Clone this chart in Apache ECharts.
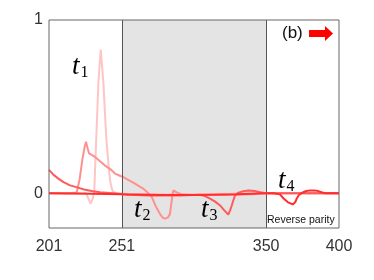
<!DOCTYPE html>
<html><head><meta charset="utf-8">
<script src="https://cdn.jsdelivr.net/npm/echarts@6/dist/echarts.min.js"></script>
<style>html,body{margin:0;padding:0;background:#fff}#c{width:374px;height:280px}</style>
</head><body><div id="c"></div>
<script>
// ---- data ----
const xTickLabels = [201, 251, 350, 400];
const yTickLabels = [0, 1];
const regionStart = 251, regionEnd = 350;

const t1X = [201,215,224,226.4,228,229.6,231,232.1,233.3,234.9,236.5,238.3,240.1,240.6,242,242.9,244,245,248,260,300,340,400];
const t1Y = [0,0,0,0,-0.03,-0.06,-0.03,0.02,0.29,0.64,0.83,0.64,0.35,0.29,0.15,0.075,0.03,0.008,0,-0.005,-0.005,0,0];

const t2X = [201,215,220,222,224,225.5,226.4,227.5,228.5,232.6,236,239.4,243,246.3,250,252,256,260,263,265.7,268,271.5,274,277.2,279,280.6,282.5,284,285.2,286.3,288.6,292,300,320,340,350,370,400];
const t2Y = [0,0,0.005,0.08,0.2,0.27,0.297,0.26,0.23,0.21,0.185,0.16,0.14,0.114,0.1,0.094,0.075,0.056,0.04,0.027,0.01,-0.02,-0.07,-0.12,-0.14,-0.146,-0.14,-0.12,-0.04,0.017,0.005,-0.005,-0.01,-0.01,-0.005,0,0,0];

const t3X = [201,204,207.4,211,215.4,221,225,230.3,236,245,255,270,290,300,304.6,308,311.5,315,318.4,321,324,325.2,326.4,327.5,328.7,331,334.4,338,342,346,350,360,380,400];
const t3Y = [0.135,0.108,0.085,0.065,0.046,0.033,0.022,0.013,0.006,0,-0.008,-0.012,-0.012,-0.01,-0.008,-0.016,-0.03,-0.048,-0.07,-0.095,-0.123,-0.1,-0.07,-0.04,-0.012,0.004,0.012,0.016,0.014,0.006,0,0,0,0];

const t4X = [201,230,251,280,300,330,350,355,359.5,362,365,368.3,370,371,372.5,374.4,377,380,383,385.8,388,390.4,395,400];
const t4Y = [0,-0.002,-0.006,-0.01,-0.01,-0.006,0,0,-0.006,-0.03,-0.052,-0.064,-0.05,-0.03,-0.01,0.002,0.012,0.017,0.017,0.013,0.006,0,0,0];

const seriesColors = ['#ffc4c4', '#ff9090', '#ff5a5a', '#ff2d2d'];

const zip = (xs, ys) => xs.map((x, i) => [x, ys[i]]);

const chart = echarts.init(document.getElementById('c'), null, {renderer: 'canvas'});
const lineSeries = [[t1X,t1Y],[t2X,t2Y],[t3X,t3Y],[t4X,t4Y]].map((d, i) => ({
  type: 'line', data: zip(d[0], d[1]), showSymbol: false, symbol: 'none',
  lineStyle: {color: seriesColors[i], width: 2}, z: 3 + i, animation: false
}));

const font = '"Liberation Sans", Arial, sans-serif';
const tRich = {
  t: {fontFamily: '"Liberation Serif", "DejaVu Serif", serif', fontStyle: 'italic', fontSize: 27, color: '#111'},
  s: {fontFamily: '"Liberation Serif", "DejaVu Serif", serif', fontSize: 16, color: '#111', padding: [12, 0, 0, 1]}
};
function tLabel(n, left, top) {
  return {type: 'text', left: left, top: top, z: 20,
    style: {text: '{t|t}{s|' + n + '}', rich: tRich}};
}

chart.setOption({
  animation: false,
  grid: {left: 49, right: 35, top: 20, bottom: 52, show: true, borderColor: '#666', borderWidth: 1, z: 10, backgroundColor: 'transparent'},
  xAxis: {
    type: 'value', min: 201, max: 400,
    axisLine: {show: false}, axisTick: {show: false}, splitLine: {show: false},
    axisLabel: {customValues: xTickLabels, fontSize: 16, color: '#333', fontFamily: font, margin: 11}
  },
  yAxis: {
    type: 'value', min: -0.2, max: 1, interval: 0.2,
    axisLine: {show: false}, axisTick: {show: false}, splitLine: {show: false},
    axisLabel: {fontSize: 16, color: '#333', fontFamily: font, margin: 6,
      formatter: v => { const r = Math.round(v * 10) / 10; return yTickLabels.includes(r) ? String(r) : ''; }}
  },
  series: [{
    type: 'line', data: [], z: 1,
    markArea: {silent: true, itemStyle: {color: '#e4e4e4', opacity: 1},
      data: [[{xAxis: regionStart}, {xAxis: regionEnd}]]},
    markLine: {silent: true, symbol: 'none', label: {show: false},
      lineStyle: {color: '#555', width: 1, type: 'solid'},
      data: [{xAxis: regionStart}, {xAxis: regionEnd}]}
  }].concat(lineSeries),
  graphic: [
    tLabel(1, 72, 53),
    tLabel(2, 134, 196),
    tLabel(3, 201, 196),
    tLabel(4, 278, 167),
    {type: 'text', left: 282, top: 25, z: 20, style: {text: '(b)', fontSize: 17, fontFamily: font, fill: '#111'}},
    {type: 'polygon', z: 20, shape: {points: [[309,30],[325,30],[325,26],[333,33.5],[325,41],[325,37],[309,37]]}, style: {fill: '#ff0000'}},
    {type: 'text', left: 267, top: 215, z: 20, style: {text: 'Reverse parity', fontSize: 10.5, fontFamily: font, fill: '#111'}}
  ]
});
</script></body></html>
